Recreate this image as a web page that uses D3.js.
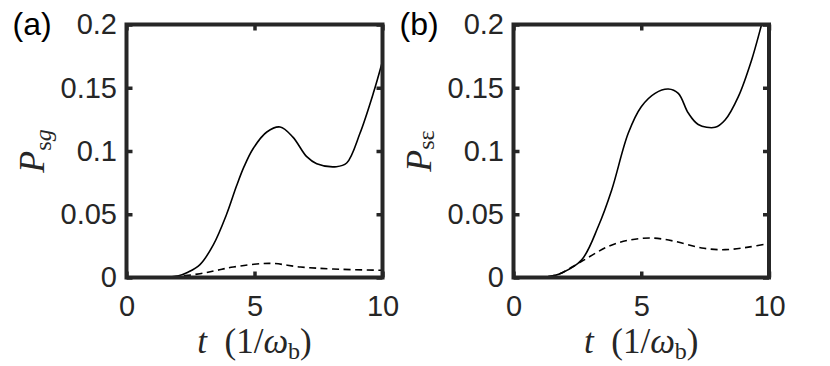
<!DOCTYPE html>
<html>
<head>
<meta charset="utf-8">
<title>P_sg and P_se</title>
<style>
    body { margin: 0; background: #fff; }
    svg { display: block; }
    .tick text { font-family: "Liberation Sans", Arial, sans-serif; font-size: 29px; fill: #262626; }
    .lab { font-family: "Liberation Serif", "Times New Roman", serif; fill: #262626; }
</style>
</head>
<body>
<svg width="830" height="366"></svg>
<script src="https://d3js.org/d3.v7.min.js"></script>
<script>
// values, t in 1/omega_b
var xTicks = [0, 5, 10];
var xTickLabels = ["0", "5", "10"];
var yTicks = [0, 0.05, 0.1, 0.15, 0.2];
var yTickLabels = ["0", "0.05", "0.1", "0.15", "0.2"];

// panel (a)
var tSolidA = [0, 1, 1.6, 2.0, 2.4, 2.87, 3.39, 3.91, 4.3, 4.6, 4.95, 5.48, 6.0, 6.5, 7.04, 7.43, 8.2, 8.6, 9.12, 9.64, 10];
var pSolidA = [0, 0, 0.0003, 0.0012, 0.0042, 0.0102, 0.0258, 0.050, 0.0725, 0.088, 0.102, 0.115, 0.119, 0.111, 0.0955, 0.090, 0.0876, 0.0905, 0.114, 0.1456, 0.171];
var tDashA = [0, 1, 1.8, 2.87, 3.5, 4.17, 5.6, 6.8, 8.07, 10];
var pDashA = [0, 0, 0.0005, 0.003, 0.0055, 0.0083, 0.0112, 0.0083, 0.0067, 0.0057];

// panel (b)
var tSolidB = [0, 1, 1.3, 1.89, 2.67, 3.32, 3.84, 4.49, 5.0, 5.54, 6.06, 6.45, 6.84, 7.23, 7.89, 8.28, 8.8, 9.32, 9.71, 10];
var pSolidB = [0, 0, 0.0003, 0.0036, 0.014, 0.0405, 0.069, 0.114, 0.135, 0.1456, 0.149, 0.1456, 0.13, 0.121, 0.1187, 0.1245, 0.143, 0.172, 0.2, 0.222];
var tDashB = [0, 1, 1.75, 2.67, 3.71, 4.49, 5.4, 6.32, 7.37, 8.28, 9.19, 10];
var pDashB = [0, 0, 0.0025, 0.0128, 0.0246, 0.0294, 0.0312, 0.0286, 0.0233, 0.022, 0.024, 0.027];

var svg = d3.select("svg");
var ink = "#262626";

function panel(id, left, right, tag, sub, tS, pS, tD, pD) {
    var top = 24.5, bottom = 277.5;
    var x = d3.scaleLinear().domain([0, 10]).range([left, right]);
    var y = d3.scaleLinear().domain([0, 0.2]).range([bottom, top]);

    svg.append("clipPath").attr("id", "clip" + id)
        .append("rect")
        .attr("x", left).attr("y", top)
        .attr("width", right - left).attr("height", bottom - top);

    var g = svg.append("g");

    var line = d3.line()
        .x(function(d) { return x(d[0]); })
        .y(function(d) { return y(d[1]); })
        .curve(d3.curveCatmullRom.alpha(0.5));

    g.append("path")
        .datum(d3.zip(tS, pS))
        .attr("clip-path", "url(#clip" + id + ")")
        .attr("d", line)
        .attr("fill", "none")
        .attr("stroke", "#000")
        .attr("stroke-width", 1.6);

    g.append("path")
        .datum(d3.zip(tD, pD))
        .attr("clip-path", "url(#clip" + id + ")")
        .attr("d", line)
        .attr("fill", "none")
        .attr("stroke", "#000")
        .attr("stroke-width", 1.6)
        .attr("stroke-dasharray", "7,4.5");

    // axes, ticks pointing inward
    var ax = [
        [d3.axisBottom(x).tickValues(xTicks).tickFormat(function(d, i) { return xTickLabels[i]; }).tickPadding(18), "translate(0," + bottom + ")"],
        [d3.axisTop(x).tickValues(xTicks).tickFormat(""), "translate(0," + top + ")"],
        [d3.axisLeft(y).tickValues(yTicks).tickFormat(function(d, i) { return yTickLabels[i]; }).tickPadding(9.5), "translate(" + left + ",0)"],
        [d3.axisRight(y).tickValues(yTicks).tickFormat(""), "translate(" + right + ",0)"]
    ];
    ax.forEach(function(a) {
        var s = g.append("g")
            .attr("transform", a[1])
            .call(a[0].tickSizeInner(-6).tickSizeOuter(0));
        s.select(".domain").remove();
        s.selectAll(".tick line").attr("stroke", ink).attr("stroke-width", 3.5);
        s.attr("font-family", null).attr("font-size", null);
    });

    g.append("rect")
        .attr("x", left).attr("y", top)
        .attr("width", right - left).attr("height", bottom - top)
        .attr("fill", "none")
        .attr("stroke", ink)
        .attr("stroke-width", 4);

    // panel tag
    g.append("text")
        .attr("x", left - 114).attr("y", 35)
        .attr("font-family", "Liberation Sans, Arial, sans-serif")
        .attr("font-size", 32)
        .attr("fill", "#000")
        .text(tag);

    // x label
    var xl = g.append("text").attr("class", "lab")
        .attr("x", (left + right) / 2).attr("y", 353)
        .attr("text-anchor", "middle")
        .attr("font-size", 35);
    xl.append("tspan").attr("font-style", "italic").text("t");
    xl.append("tspan").text("\u2002(1/");
    xl.append("tspan").attr("font-style", "italic").text("\u03c9");
    xl.append("tspan").attr("font-size", 24).attr("dy", 6).text("b");
    xl.append("tspan").attr("dy", -6).text(")");

    // y label
    var yl = g.append("text").attr("class", "lab")
        .attr("transform", "translate(" + (left - 83) + "," + ((top + bottom) / 2) + ") rotate(-90)")
        .attr("text-anchor", "middle")
        .attr("font-size", 36);
    yl.append("tspan").attr("font-style", "italic").text("P");
    yl.append("tspan").attr("font-size", 24).attr("dy", sub[2]).text(sub[0]);
    yl.append("tspan").attr("font-size", 24).attr("font-style", sub[3]).text(sub[1]);
}

panel("a", 126.5, 382.5, "(a)", ["s", "g", 7, "italic"], tSolidA, pSolidA, tDashA, pDashA);
panel("b", 513.5, 769, "(b)", ["s", "\u03b5", 3, "normal"], tSolidB, pSolidB, tDashB, pDashB);
</script>
</body>
</html>
